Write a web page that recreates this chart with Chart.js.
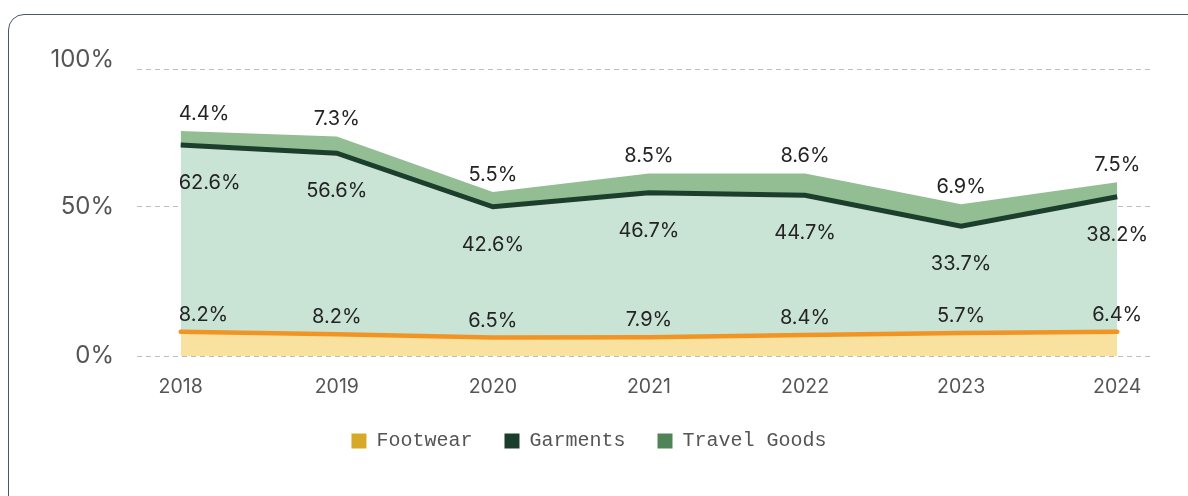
<!DOCTYPE html>
<html><head><meta charset="utf-8">
<script src="https://cdn.jsdelivr.net/npm/chart.js@4"></script>
<style>
html,body{margin:0;padding:0;background:#fff;width:1188px;height:496px;overflow:hidden;}
#card{position:absolute;left:8px;top:14px;width:1230px;height:560px;border:1.5px solid #4a576b;border-radius:16px;box-sizing:border-box;}
#wrap{position:absolute;left:28px;top:20px;width:1122px;height:441px;}
</style></head><body>
<div id="card"></div>
<div id="wrap"><canvas id="c"></canvas></div>
<script>
// ---- data ----
const years = [2018, 2019, 2020, 2021, 2022, 2023, 2024];
const footwear    = [8.1, 7.3, 6.2, 6.3, 7.0, 7.7, 8.1];
const garments    = [62.6, 60.7, 43.8, 48.4, 46.9, 35.8, 45.3];
const travelGoods = [4.7, 5.6, 5.0, 6.5, 7.3, 7.4, 4.8];
const footwearLabels = ['8.2%','8.2%','6.5%','7.9%','8.4%','5.7%','6.4%'];
const garmentLabels  = ['62.6%','56.6%','42.6%','46.7%','44.7%','33.7%','38.2%'];
const travelLabels   = ['4.4%','7.3%','5.5%','8.5%','8.6%','6.9%','7.5%'];
const yTickValues = [0, 50, 96.2];
const yTickLabels = ['0%', '50%', '100%'];
const yAxisMax = 96.2;
const xAxisMin = 2017.72, xAxisMax = 2024.21;
const legendColors = ['#D6AA28', '#1A3D2C', '#4E8456'];

const pts = arr => years.map((x, i) => ({x, y: arr[i]}));

const valueLabels = {
  id: 'valueLabels',
  afterDatasetsDraw(chart) {
    const ctx = chart.ctx;
    ctx.save();
    ctx.font = '20px Inter';
    ctx.fillStyle = '#242424';
    ctx.textBaseline = 'middle';
    chart.data.datasets.forEach((ds, di) => {
      const meta = chart.getDatasetMeta(di);
      meta.data.forEach((pt, i) => {
        ctx.textAlign = i === 0 ? 'left' : 'center';
        ctx.fillText(ds.valueLabels[i], pt.x - (i === 0 ? 2 : 0), pt.y + ds.labelOffset);
      });
    });
    ctx.restore();
  }
};

new Chart(document.getElementById('c'), {
  type: 'line',
  data: {
    datasets: [
      {label: 'Footwear', data: pts(footwear), fill: 'origin', backgroundColor: '#F9E2A0',
       borderColor: '#F29423', borderWidth: 4.5, borderCapStyle: 'round', pointRadius: 0, tension: 0,
       valueLabels: footwearLabels, labelOffset: -17},
      {label: 'Garments', data: pts(garments), fill: '-1', backgroundColor: '#C9E3D4',
       borderColor: '#1B3F2C', borderWidth: 5, pointRadius: 0, tension: 0,
       valueLabels: garmentLabels, labelOffset: 38},
      {label: 'Travel Goods', data: pts(travelGoods), fill: '-1', backgroundColor: '#93BD93',
       borderColor: '#93BD93', borderWidth: 0, pointRadius: 0, tension: 0,
       valueLabels: travelLabels, labelOffset: -17}
    ]
  },
  options: {
    responsive: true, maintainAspectRatio: false, animation: false,
    layout: {padding: {top: 49, left: 0, right: 0, bottom: 0}},
    scales: {
      x: {type: 'linear', min: xAxisMin, max: xAxisMax,
        afterBuildTicks: s => { s.ticks = years.map(v => ({value: v})); },
        afterFit: s => { s.height = 43; s.paddingLeft = 0; s.paddingRight = 0; },
        ticks: {padding: 19, color: '#555', font: {family: 'Inter', size: 19.5}, autoSkip: false, maxRotation: 0,
          callback: v => String(v)},
        grid: {display: false, drawTicks: false}, border: {display: false}},
      y: {stacked: true, min: 0, max: yAxisMax,
        afterBuildTicks: s => { s.ticks = yTickValues.map(v => ({value: v})); },
        afterFit: s => { s.width = 109; s.paddingTop = 0; s.paddingBottom = 0; },
        ticks: {padding: 23, color: '#555', font: {family: 'Inter', size: 24, lineHeight: 0.8},
          callback: (v, i) => i === yTickValues.length - 1 ? [yTickLabels[i], ''] : yTickLabels[i]},
        grid: {color: '#bdbdbd', lineWidth: 1, drawTicks: false},
        border: {display: false, dash: [5, 4]}}
    },
    plugins: {
      tooltip: {enabled: false},
      legend: {position: 'bottom',
        labels: {boxWidth: 15, boxHeight: 15, padding: 32, color: '#555',
          font: {family: 'Liberation Mono', size: 20},
          generateLabels: chart => chart.data.datasets.map((d, i) => ({
            text: d.label, fillStyle: legendColors[i], strokeStyle: legendColors[i], lineWidth: 0,
            hidden: false, datasetIndex: i, fontColor: '#555'}))}}
    }
  },
  plugins: [valueLabels]
});
</script>
</body></html>
